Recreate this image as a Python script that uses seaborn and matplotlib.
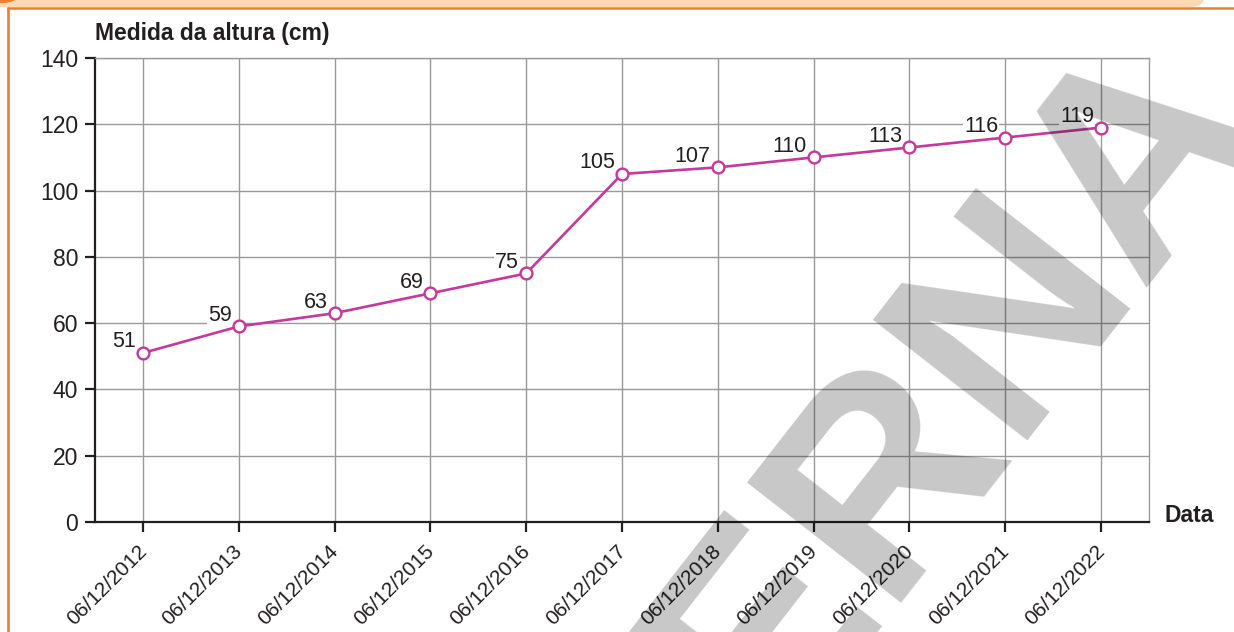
import matplotlib
matplotlib.use("Agg")
import matplotlib.pyplot as plt
import matplotlib.transforms as mtransforms
from matplotlib.patches import FancyBboxPatch, Ellipse
import seaborn as sns
import pandas as pd

# Heights measured on each date
datas = ["06/12/2012", "06/12/2013", "06/12/2014", "06/12/2015", "06/12/2016",
         "06/12/2017", "06/12/2018", "06/12/2019", "06/12/2020", "06/12/2021",
         "06/12/2022"]
alturas = [51, 59, 63, 69, 75, 105, 107, 110, 113, 116, 119]
y_ticks = [0, 20, 40, 60, 80, 100, 120, 140]

titulo_y = "Medida da altura (cm)"
titulo_x = "Data"
marca = "MODERNA"

sns.set_theme(style="white")
plt.rcParams["font.family"] = ["Liberation Sans", "DejaVu Sans"]

W, H = 1234, 632
INK = "#231f20"
LINE = "#c4399b"
GRID = "#9a9a9a"
ORANGE = "#f07d32"
heading = ["Liberation Sans", "DejaVu Sans"]

fig = plt.figure(figsize=(W / 100, H / 100), dpi=100)
fig.patch.set_facecolor("white")

# Page frame: light orange band on top, orange rules on top and left
bg = fig.add_axes([0, 0, 1, 1], zorder=-1)
bg.set_xlim(0, W)
bg.set_ylim(H, 0)
bg.axis("off")
bg.add_patch(FancyBboxPatch((-40, -40), 1245, 47,
                            boxstyle="round,pad=0,rounding_size=14",
                            fc="#fdd9b3", ec="none"))
bg.add_patch(Ellipse((2, -3), 30, 12, fc=ORANGE, ec="none"))
bg.plot([6.5, W], [7.8, 7.8], color=ORANGE, lw=1.8, solid_capstyle="butt")
bg.plot([7.5, 7.5], [7, H], color=ORANGE, lw=1.9, solid_capstyle="butt")

# Chart
ax = fig.add_axes([95 / W, 1 - 522 / H, (1149 - 95) / W, (522 - 58) / H])
df = pd.DataFrame({"Data": datas, "Altura": alturas})
sns.lineplot(data=df, x="Data", y="Altura", sort=False, ax=ax,
             color=LINE, lw=1.9, marker="o", markersize=8.5,
             markerfacecolor="white", markeredgecolor=LINE,
             markeredgewidth=1.7, zorder=3)

for i, v in enumerate(alturas):
    ax.annotate(str(v), (i, v), xytext=(-5, 4), textcoords="offset points",
                ha="right", va="baseline", fontsize=15.5, color=INK,
                bbox=dict(boxstyle="square,pad=0.05", fc="white", ec="none"),
                zorder=2.5)

ax.set_xlim(-0.5, len(datas) - 0.5)
ax.set_ylim(0, 140)
ax.set_yticks(y_ticks)
ax.set_xlabel("")
ax.set_ylabel("")
ax.set_axisbelow(True)
ax.grid(True, color=GRID, lw=1.0)

for side in ("left", "bottom"):
    ax.spines[side].set_color(INK)
    ax.spines[side].set_linewidth(1.6)
for side in ("top", "right"):
    ax.spines[side].set_color(GRID)
    ax.spines[side].set_linewidth(1.0)

ax.tick_params(axis="both", which="major", direction="out", length=7,
               width=1.6, color=INK, labelcolor=INK,
               bottom=True, left=True)
ax.tick_params(axis="y", pad=5, labelsize=16.5)
ax.tick_params(axis="x", pad=7, labelsize=15)

ax.set_xticks(range(len(datas)))
ax.set_xticklabels(datas, rotation=45, ha="right", va="top",
                   rotation_mode="anchor")
shift = mtransforms.ScaledTranslation(-6 / 100, 0, fig.dpi_scale_trans)
for lab in ax.get_xticklabels():
    lab.set_transform(lab.get_transform() + shift)

fig.text(95 / W, 1 - 40 / H, titulo_y, ha="left", va="baseline",
         fontsize=16.5, fontweight="bold", family=heading, color=INK)
fig.text(1164 / W, 1 - 522 / H, titulo_x, ha="left", va="baseline",
         fontsize=16.5, fontweight="bold", family=heading, color=INK)

# Diagonal stamp across the page
fig.text(752 / W, 1 - 650 / H, marca, rotation=52, rotation_mode="anchor",
         ha="center", va="center", fontsize=205, fontweight="bold",
         family="Liberation Sans", color="black", alpha=0.22, zorder=10)

fig.savefig("out.png", dpi=100)
